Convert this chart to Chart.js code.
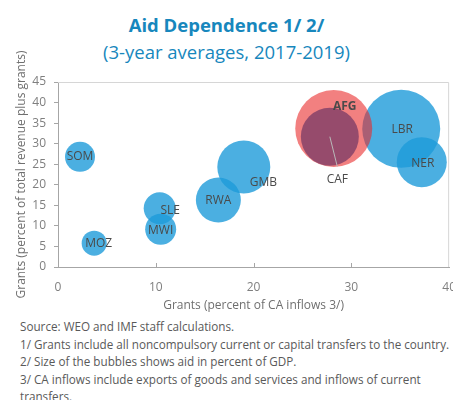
<!DOCTYPE html>
<html>
<head>
<script src="https://cdn.jsdelivr.net/npm/chart.js@4.4.0/dist/chart.umd.min.js"></script>
<style>
body { margin: 0; width: 453px; height: 400px; overflow: hidden; background: #fff; position: relative; font-family: "Open Sans", sans-serif; }
#title { position: absolute; top: 13px; left: 0; width: 453px; text-align: center; color: #1787bd; font-size: 18.5px; font-weight: bold; line-height: 24px; }
#subtitle { position: absolute; top: 40px; left: 0; width: 453px; text-align: center; color: #1787bd; font-size: 18.5px; line-height: 24px; }
#myChart { position: absolute; left: 0; top: 0; }
#notes { position: absolute; left: 20px; top: 318px; font-size: 11.7px; line-height: 17.5px; color: #595959; white-space: nowrap; }
</style>
</head>
<body>
<div id="title">Aid Dependence 1/ 2/</div>
<div id="subtitle">(3-year averages, 2017-2019)</div>
<canvas id="myChart" width="461" height="315"></canvas>
<div id="notes">
Source: WEO and IMF staff calculations.<br>
1/ Grants include all noncompulsory current or capital transfers to the country.<br>
2/ Size of the bubbles shows aid in percent of GDP.<br>
3/ CA inflows include exports of goods and services and inflows of current<br>
transfers.
</div>
<script>
// values
var countries = ["SOM", "MOZ", "SLE", "MWI", "RWA", "GMB", "CAF", "LBR", "NER", "AFG"];
var grantsCA = [2.25, 3.7, 10.4, 10.5, 16.4, 19.0, 27.8, 35.1, 37.2, 28.2];   // % of CA inflows
var grantsRev = [26.8, 5.8, 14.3, 9.2, 16.3, 24.3, 31.7, 33.6, 25.5, 33.7];  // % of revenue plus grants
var bubbleSize = [15, 12.5, 16, 15.5, 22.5, 26.5, 29, 39, 25, 38.5];         // aid in % of GDP (bubble radius)
var highlighted = "AFG";
var xTicks = [0, 10, 20, 30, 40];
var yTicks = [0, 5, 10, 15, 20, 25, 30, 35, 40, 45];

var blue = [], red = [], blueColors = [];
countries.forEach(function(c, i) {
    var p = { x: grantsCA[i], y: grantsRev[i], r: bubbleSize[i], name: c };
    if (c === highlighted) red.push(p);
    else {
        blue.push(p);
        blueColors.push(c === "CAF" ? "rgba(0,110,200,0.9)" : "rgba(30,155,217,0.8)");
    }
});

// label offsets in pixels from the bubble centre
var labelPos = {
    SOM: [0, 0], MOZ: [4.5, 0], SLE: [10.5, 2], MWI: [0, 1], RWA: [0, 1],
    GMB: [19.5, 15.5], LBR: [1, 1], NER: [1, 1], AFG: [11, -21.5], CAF: [7.5, 43]
};

var labels = {
    id: "labels",
    afterDatasetsDraw: function(chart) {
        var ctx = chart.ctx;
        ctx.save();
        ctx.textAlign = "center";
        ctx.textBaseline = "middle";
        chart.data.datasets.forEach(function(ds, di) {
            var meta = chart.getDatasetMeta(di);
            ds.data.forEach(function(p, i) {
                var el = meta.data[i];
                var off = labelPos[p.name] || [0, 0];
                if (p.name === "CAF") {
                    ctx.strokeStyle = "#b8b8b8";
                    ctx.lineWidth = 1;
                    ctx.beginPath();
                    ctx.moveTo(el.x, el.y);
                    ctx.lineTo(el.x + 7.5, el.y + 30);
                    ctx.stroke();
                }
                ctx.font = (p.name === highlighted ? "bold " : "") + "12px 'Open Sans'";
                ctx.fillStyle = "#4a4a4a";
                ctx.fillText(p.name, el.x + off[0], el.y + off[1]);
            });
        });
        ctx.restore();
    }
};

var frame = {
    id: "frame",
    beforeDatasetsDraw: function(chart) {
        var a = chart.chartArea, ctx = chart.ctx, xs = chart.scales.x;
        ctx.save();
        ctx.strokeStyle = "#d6d6d6";
        ctx.lineWidth = 1;
        ctx.beginPath();
        ctx.moveTo(a.left, a.top + 0.5);
        ctx.lineTo(a.right - 0.5, a.top + 0.5);
        ctx.lineTo(a.right - 0.5, a.bottom);
        ctx.stroke();
        ctx.strokeStyle = "#a6a6a6";
        ctx.beginPath();
        xTicks.slice(1, -1).forEach(function(v) {
            var px = Math.round(xs.getPixelForValue(v)) + 0.5;
            ctx.moveTo(px, a.bottom);
            ctx.lineTo(px, a.bottom - 4);
        });
        ctx.stroke();
        ctx.restore();
    }
};

new Chart(document.getElementById("myChart").getContext("2d"), {
    type: "bubble",
    data: {
        datasets: [{
            label: "AFG",
            data: red,
            backgroundColor: "rgba(233,43,43,0.6)",
            borderWidth: 0,
            hoverRadius: 0
        }, {
            label: "Others",
            data: blue,
            backgroundColor: blueColors,
            borderWidth: 0,
            hoverRadius: 0
        }]
    },
    options: {
        responsive: false,
        animation: false,
        layout: { autoPadding: false, padding: { top: 82, right: 11, left: 0, bottom: 0 } },
        plugins: {
            legend: { display: false },
            tooltip: { enabled: false }
        },
        scales: {
            x: {
                type: "linear",
                min: 0,
                max: 40,
                afterBuildTicks: function(s) { s.ticks = xTicks.map(function(v) { return { value: v }; }); },
                afterFit: function(s) { s.height = 48; },
                ticks: { color: "#7f7f7f", font: { family: "Open Sans", size: 12 }, padding: 5 },
                grid: { display: false },
                border: { display: true, color: "#a6a6a6" },
                title: {
                    display: true,
                    text: "Grants (percent of CA inflows 3/)",
                    color: "#6f6f6f",
                    font: { family: "Open Sans", size: 12 },
                    padding: { top: 0, bottom: 2 }
                }
            },
            y: {
                min: 0,
                max: 45,
                afterBuildTicks: function(s) { s.ticks = yTicks.map(function(v) { return { value: v }; }); },
                afterFit: function(s) { s.width = 58; },
                ticks: { color: "#7f7f7f", font: { family: "Open Sans", size: 12 }, padding: 8 },
                grid: { drawOnChartArea: false, drawTicks: true, tickLength: 4, color: "#a6a6a6" },
                border: { display: true, color: "#a6a6a6" },
                title: {
                    display: true,
                    text: "Grants (percent of total revenue plus grants)",
                    color: "#6f6f6f",
                    font: { family: "Open Sans", size: 12 },
                    padding: { top: 14, bottom: 0 }
                }
            }
        }
    },
    plugins: [frame, labels]
});
</script>
</body>
</html>
